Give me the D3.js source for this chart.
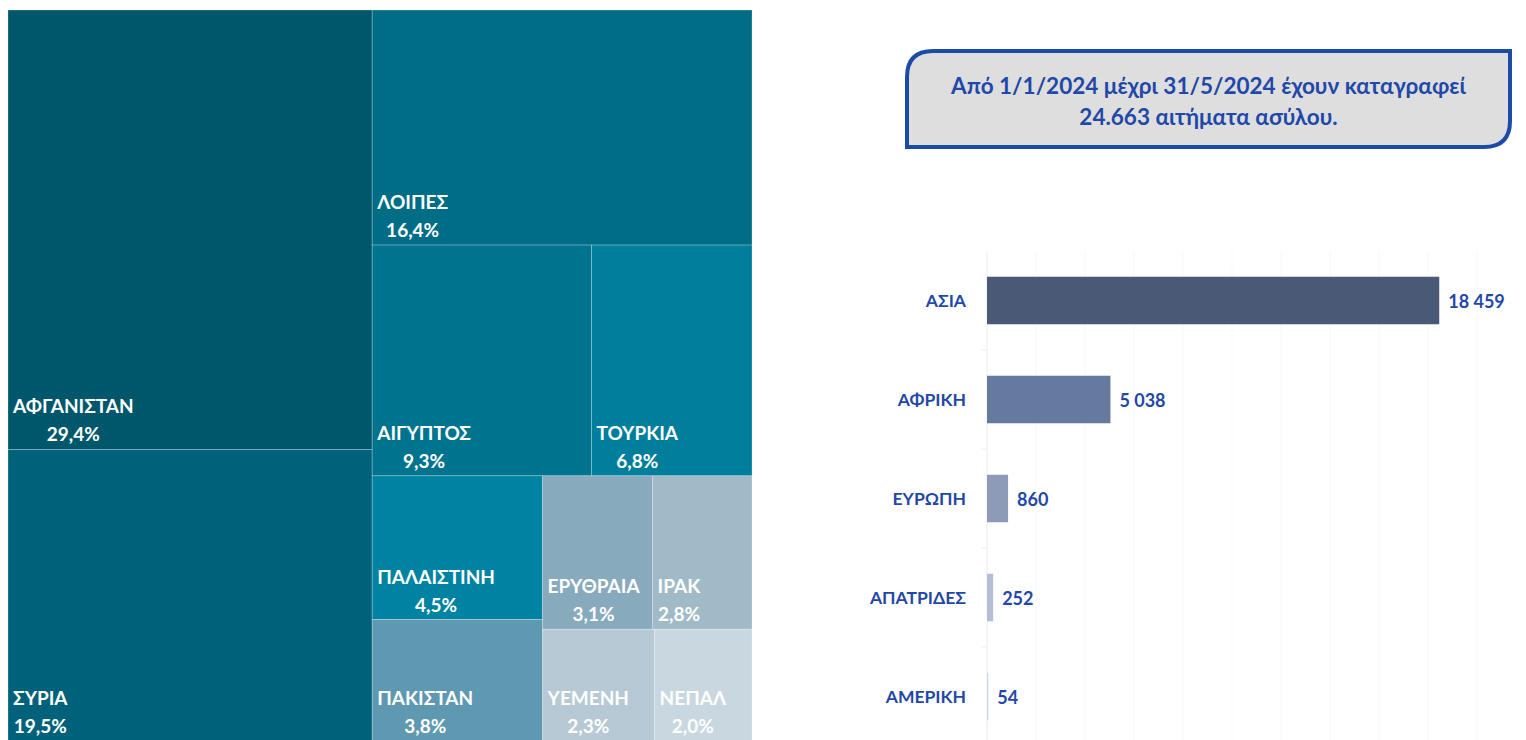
<!DOCTYPE html>
<html>
<head>
<meta charset="utf-8">
<script src="https://cdn.jsdelivr.net/npm/d3@7"></script>
<style>
  body { margin: 0; background: #fff; }
  svg { display: block; font-family: Lato, "Open Sans", sans-serif; }
</style>
</head>
<body>
<svg id="chart" width="1526" height="740"></svg>
<script>
// treemap: country share of asylum applications (%)
const countries = ["ΑΦΓΑΝΙΣΤΑΝ", "ΣΥΡΙΑ", "ΛΟΙΠΕΣ", "ΑΙΓΥΠΤΟΣ", "ΤΟΥΡΚΙΑ", "ΠΑΛΑΙΣΤΙΝΗ", "ΠΑΚΙΣΤΑΝ", "ΕΡΥΘΡΑΙΑ", "ΙΡΑΚ", "ΥΕΜΕΝΗ", "ΝΕΠΑΛ"];
const shares = [29.4, 19.5, 16.4, 9.3, 6.8, 4.5, 3.8, 3.1, 2.8, 2.3, 2.0];
const cellColors = ["#00576c", "#00627a", "#006d86", "#00738f", "#007e9c", "#0083a2", "#5e98b1", "#87aabd", "#a1bac8", "#b6c9d4", "#c9d7e0"];

// bar chart: applications by continent
const regions = ["ΑΣΙΑ", "ΑΦΡΙΚΗ", "ΕΥΡΩΠΗ", "ΑΠΑΤΡΙΔΕΣ", "ΑΜΕΡΙΚΗ"];
const counts = [18459, 5038, 860, 252, 54];
const barColors = ["#4a5a76", "#66799e", "#8d9bb8", "#b3bfd5", "#d0d8e6"];

const infoLines = ["Από 1/1/2024 μέχρι 31/5/2024 έχουν καταγραφεί", "24.663 αιτήματα ασύλου."];

const blue = "#1f48a8";
const svg = d3.select("#chart");

// ---------- treemap ----------
const leaf = i => ({ name: countries[i], value: shares[i], color: cellColors[i] });
const tree = {
  dir: "h", children: [
    { dir: "v", children: [leaf(0), leaf(1)] },
    { dir: "v", children: [
      leaf(2),
      { dir: "v", children: [
        { dir: "h", children: [leaf(3), leaf(4)] },
        { dir: "h", children: [
          { dir: "v", children: [leaf(5), leaf(6)] },
          { dir: "v", children: [
            { dir: "h", children: [leaf(7), leaf(8)] },
            { dir: "h", children: [leaf(9), leaf(10)] }
          ]}
        ]}
      ]}
    ]}
  ]
};

const root = d3.hierarchy(tree).sum(d => d.value || 0);
d3.treemap()
  .size([744, 731])
  .tile((node, x0, y0, x1, y1) =>
    node.data.dir === "h" ? d3.treemapDice(node, x0, y0, x1, y1) : d3.treemapSlice(node, x0, y0, x1, y1))
  (root);

const tm = svg.append("g").attr("transform", "translate(8,10)");
const cells = tm.selectAll("g.cell")
  .data(root.leaves())
  .join("g")
    .attr("class", "cell")
    .attr("transform", d => `translate(${d.x0},${d.y0})`);

cells.append("rect")
  .attr("width", d => d.x1 - d.x0)
  .attr("height", d => d.y1 - d.y0)
  .attr("fill", d => d.data.color)
  .attr("stroke", "rgba(255,255,255,0.3)")
  .attr("stroke-width", 0.8);

cells.each(function(d) {
  const g = d3.select(this);
  const h = d.y1 - d.y0;
  const name = g.append("text")
    .attr("x", 5)
    .attr("y", h - 36)
    .attr("fill", "#fff")
    .attr("font-weight", 700)
    .attr("font-size", 19)
    .text(d.data.name);
  const w = name.node().getComputedTextLength();
  g.append("text")
    .attr("x", 5 + w / 2)
    .attr("y", h - 8)
    .attr("text-anchor", "middle")
    .attr("fill", "#fff")
    .attr("font-weight", 700)
    .attr("font-size", 19)
    .text(d3.format(".1f")(d.data.value).replace(".", ",") + "%");
});

// ---------- info box ----------
const bx = 907, by = 51, bw = 603, bh = 96, r = 26;
svg.append("path")
  .attr("d", `M${bx + r},${by} H${bx + bw} V${by + bh - r} Q${bx + bw},${by + bh} ${bx + bw - r},${by + bh} H${bx} V${by + r} Q${bx},${by} ${bx + r},${by} Z`)
  .attr("fill", "#dedede")
  .attr("stroke", "#1b4aa8")
  .attr("stroke-width", 4);

svg.append("g").selectAll("text")
  .data(infoLines)
  .join("text")
    .attr("x", bx + bw / 2)
    .attr("y", (d, i) => 94 + i * 31)
    .attr("text-anchor", "middle")
    .attr("fill", blue)
    .attr("font-weight", 700)
    .attr("font-size", 22.5)
    .text(d => d);

// ---------- bar chart ----------
const x = d3.scaleLinear().domain([0, 20000]).range([987, 1477]);
const y = d3.scaleBand().domain(regions).range([251, 746]).paddingInner(0.52).paddingOuter(0.26);

svg.append("g")
  .attr("stroke", "#f7f7f7")
  .selectAll("line")
  .data(x.ticks(10).slice(1))
  .join("line")
    .attr("x1", d => x(d)).attr("x2", d => x(d))
    .attr("y1", 251).attr("y2", 746);

svg.append("line")
  .attr("x1", x(0)).attr("x2", x(0))
  .attr("y1", 251).attr("y2", 746)
  .attr("stroke", "#ececec");

const step = y.step();
svg.append("g")
  .attr("stroke", "#f0f0f0")
  .selectAll("line")
  .data(regions.slice(1))
  .join("line")
    .attr("x1", x(0) - 6).attr("x2", x(0))
    .attr("y1", d => y(d) - step * y.paddingInner() / 2)
    .attr("y2", d => y(d) - step * y.paddingInner() / 2);

svg.append("g").selectAll("rect")
  .data(regions)
  .join("rect")
    .attr("x", x(0))
    .attr("y", d => y(d))
    .attr("width", (d, i) => x(counts[i]) - x(0))
    .attr("height", y.bandwidth())
    .attr("fill", (d, i) => barColors[i]);

svg.append("g").selectAll("text")
  .data(regions)
  .join("text")
    .attr("x", 966)
    .attr("y", d => y(d) + y.bandwidth() / 2 + 6)
    .attr("text-anchor", "end")
    .attr("fill", blue)
    .attr("font-weight", 700)
    .attr("font-size", 17.5)
    .text(d => d);

svg.append("g").selectAll("text")
  .data(regions)
  .join("text")
    .attr("x", (d, i) => x(counts[i]) + 9)
    .attr("y", d => y(d) + y.bandwidth() / 2 + 7)
    .attr("fill", blue)
    .attr("font-weight", 700)
    .attr("font-size", 18)
    .text((d, i) => d3.format(",")(counts[i]).replace(/,/g, " "));
</script>
</body>
</html>
